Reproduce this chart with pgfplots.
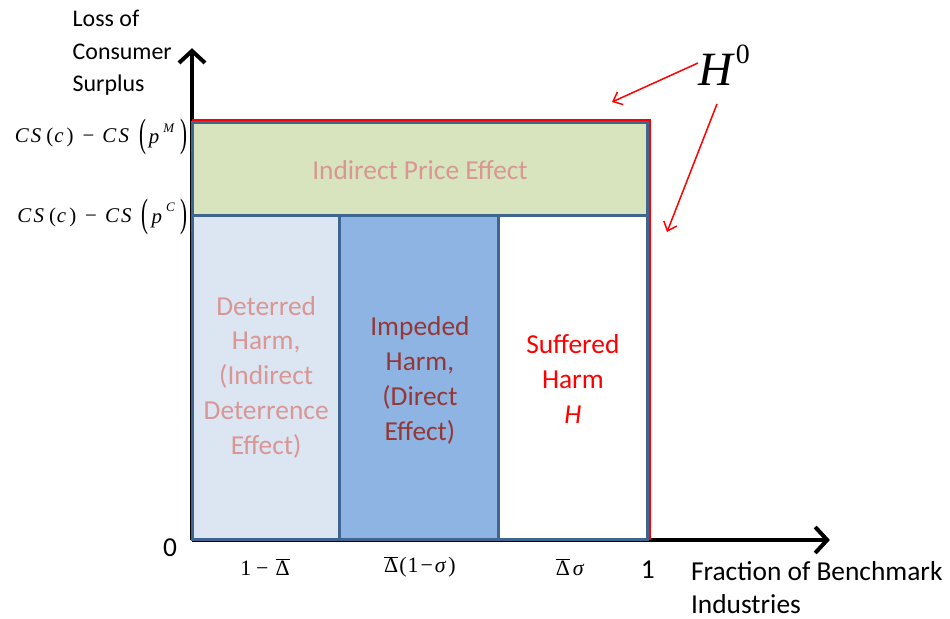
\documentclass[border=0pt]{standalone}
\usepackage{pgfplots}
\pgfplotsset{compat=1.18}
\usepackage{graphicx}
\usepackage{fontspec}
\setmainfont{Carlito}
\newfontfamily\tms{Liberation Serif}
\usetikzlibrary{arrows.meta}
\definecolor{lblue}{HTML}{DCE6F2}
\definecolor{mblue}{HTML}{8EB4E3}
\definecolor{lgreen}{HTML}{D7E4BD}
\definecolor{bordc}{HTML}{3F6690}
\definecolor{pinktxt}{HTML}{D99694}
\definecolor{darkred}{HTML}{953735}
\newcommand{\txt}{\fontsize{27.5}{35}\selectfont}
\newcommand{\lbl}{\fontsize{27.5}{33}\selectfont}
\newcommand{\ylbl}{\fontsize{24}{32.5}\selectfont}
\newcommand{\mth}{\tms\fontsize{21}{24}\selectfont}
\newcommand{\tck}{\tms\fontsize{22}{24}\selectfont}
\newcommand{\bigp}[1]{\raisebox{-0.2em}{\scalebox{1}[1.9]{#1}}}
\newcommand{\dbar}{$\overline{\mbox{\tms Δ}}$}
\newcommand{\cslabel}[1]{\textit{C}\kern2bp\textit{S}\kern5bp(\kern1bp\textit{c}\kern3bp)\kern9bp−\kern8bp\textit{C}\kern2bp\textit{S}\kern10bp\bigp{(}\kern3bp\raisebox{-1.5bp}{\textit{p}}\kern4bp\raisebox{0.5em}{\fontsize{13}{14}\selectfont\textit{#1}}\kern6bp\bigp{)}}
\begin{document}
\begin{tikzpicture}
\begin{axis}[width=950bp,height=619bp,scale only axis,
  xmin=-0.42198,xmax=1.66593,ymin=-0.18922,ymax=1.29341,
  hide axis,clip=false]
\path (rel axis cs:0,0) rectangle (rel axis cs:1,1);
% axes
\draw[line width=4bp,-{Straight Barb[length=12bp,width=26bp]}] (axis cs:0,0) -- (axis cs:1.402,0);
\draw[line width=4bp,-{Straight Barb[length=12bp,width=26bp]}] (axis cs:0,0) -- (axis cs:0,1.178);
% red outline H0
\addplot[draw=red, line width=3bp] coordinates {(0,1.005) (1.005,1.005) (1.005,0)};
% regions
\addplot[fill=lgreen, draw=bordc, line width=3bp] coordinates {(0,0.778) (1,0.778) (1,1) (0,1)} --cycle;
\addplot[fill=lblue, draw=bordc, line width=3bp] coordinates {(0,0) (0.325,0) (0.325,0.778) (0,0.778)} --cycle;
\addplot[fill=mblue, draw=bordc, line width=3bp] coordinates {(0.325,0) (0.673,0) (0.673,0.778) (0.325,0.778)} --cycle;
\addplot[fill=white, draw=bordc, line width=3bp] coordinates {(0.673,0) (1,0) (1,0.778) (0.673,0.778)} --cycle;
% texts
\node[anchor=west, align=left, font=\ylbl] at (axis cs:-0.27,1.1665) {Loss of\\Consumer\\Surplus};
\node[anchor=west, align=left, font=\lbl] at (axis cs:1.0890,-0.115) {Fraction of Benchmark\\Industries};
\node[font=\lbl] at (axis cs:-0.0484,-0.0192) {0};
\node[font=\lbl] at (axis cs:1.002,-0.0719) {1};
\node[font=\tck] at (axis cs:0.1604,-0.0647) {1\kern5bp−\kern7bp\dbar};
\node[font=\tck] at (axis cs:0.501,-0.0647) {\dbar\kern1bp(\kern1bp1\kern2bp−\kern2bp\textit{σ}\kern2bp)};
\node[font=\tck] at (axis cs:0.831,-0.0647) {\dbar\kern3bp\textit{σ}};
\node[font=\mth, anchor=east, inner sep=0pt] at (axis cs:-0.0088,0.965) {\cslabel{M}};
\node[font=\mth, anchor=east, inner sep=0pt] at (axis cs:-0.0088,0.7737) {\cslabel{C}};
\node[font=\txt, text=pinktxt] at (axis cs:0.501,0.886) {Indirect Price Effect};
\node[font=\txt, text=pinktxt, align=center] at (axis cs:0.163,0.390) {Deterred\\Harm,\\(Indirect\\Deterrence\\Effect)};
\node[font=\txt, text=darkred, align=center] at (axis cs:0.501,0.383) {Impeded\\Harm,\\(Direct\\Effect)};
\node[font=\txt, text=red, align=center] at (axis cs:0.837,0.386) {Suffered\\Harm\\\textit{H}};
\node[font=\tms\fontsize{48}{50}\selectfont, anchor=base west, inner sep=0pt] at (axis cs:1.112,1.0898) {\textit{H}\kern1bp\raisebox{0.45em}{\fontsize{28}{30}\selectfont 0}};
\draw[red, line width=1.5bp, -{Straight Barb[length=8bp,width=14bp]}] (axis cs:1.1121,1.1425) -- (axis cs:0.9231,1.0491);
\draw[red, line width=1.5bp, -{Straight Barb[length=8bp,width=14bp]}] (axis cs:1.1538,1.0443) -- (axis cs:1.0440,0.7377);
\end{axis}
\end{tikzpicture}
\end{document}
